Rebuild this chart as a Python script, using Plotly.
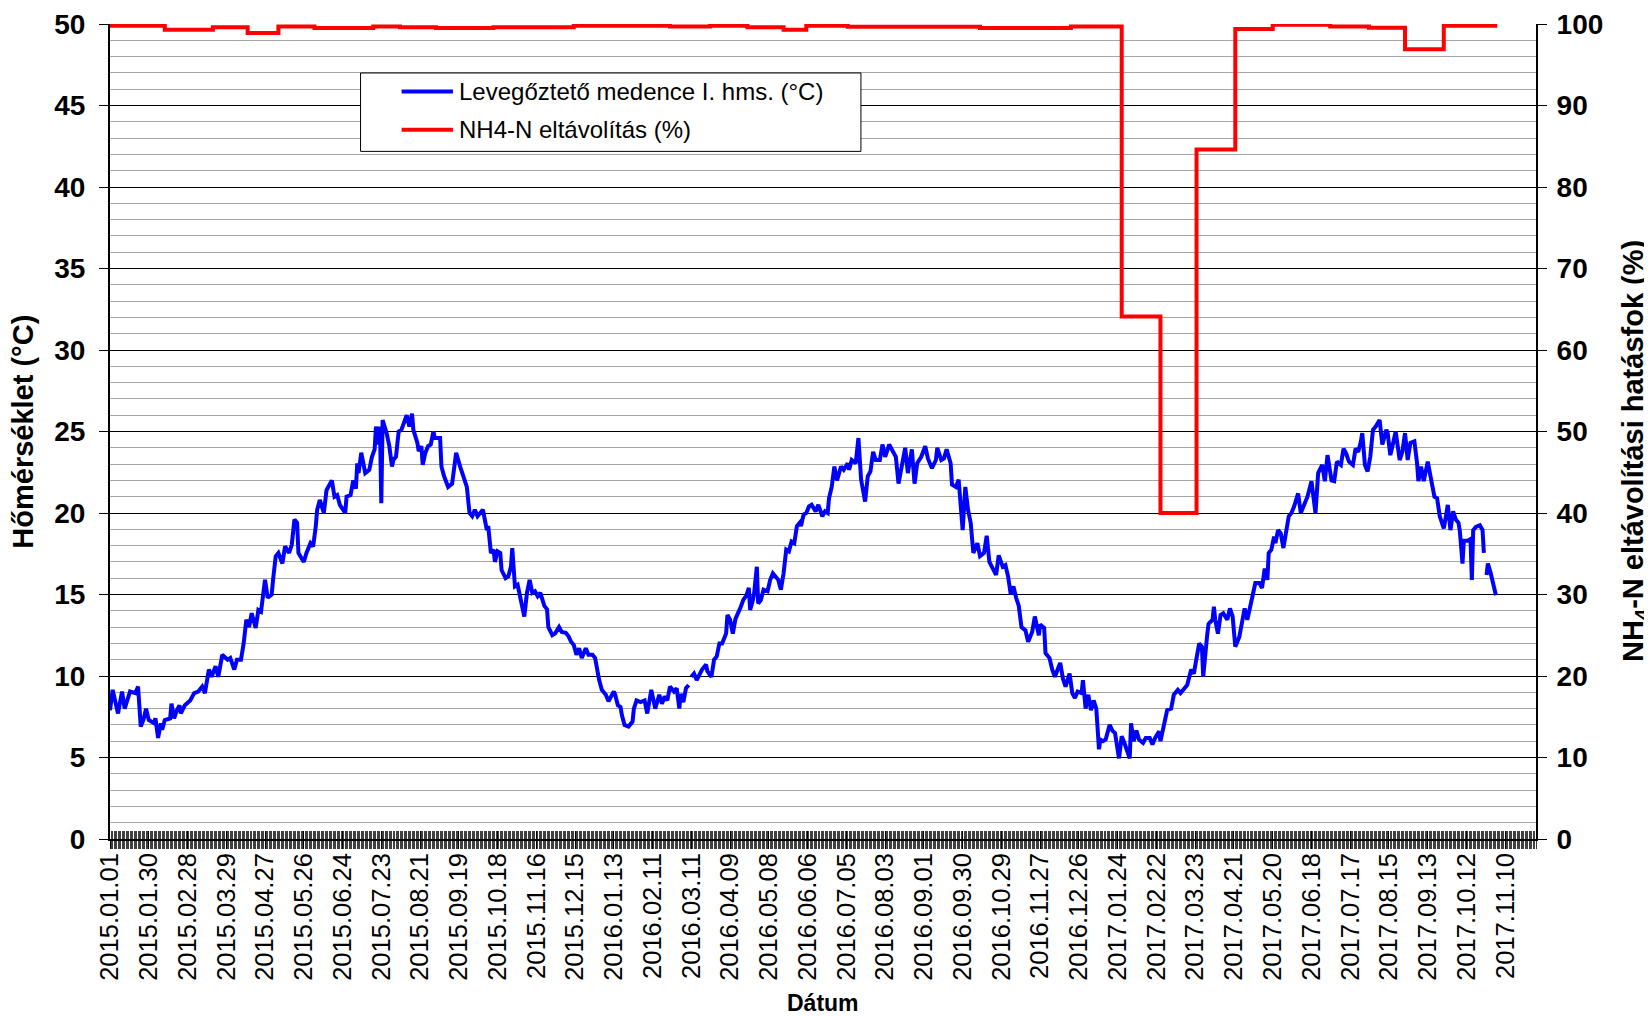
import plotly.graph_objects as go
import pandas as pd

# ---------------- data ----------------
START_DATE = "2015-01-01"

# days since 2015-01-01 and aeration-basin temperature (°C); None = gap in the record
day_offset = [
    0, 2, 6, 9, 11, 13, 15, 19, 21, 23, 25, 27, 29, 33, 34, 36, 38, 39, 41, 45,
    46, 48, 50, 52, 53, 56, 60, 63, 66, 69, 71, 74, 76, 79, 81, 84, 88, 90, 93, 95,
    98, 100, 102, 104, 106, 109, 111, 113, 116, 118, 121, 122, 124, 126, 129, 131, 134, 136, 138, 140,
    141, 145, 147, 150, 152, 154, 155, 157, 160, 162, 166, 168, 170, 172, 176, 177, 180, 182, 184, 185,
    186, 188, 191, 194, 196, 198, 199, 201, 202, 203, 204, 207, 209, 211, 212, 214, 216, 218, 220, 222,
    224, 226, 227, 230, 231, 233, 234, 236, 238, 240, 242, 243, 247, 248, 250, 253, 256, 259, 262, 265,
    267, 269, 271, 273, 275, 279,
    282, 283, 285, 287, 288, 290, 292, 293, 296, 298, 300, 301, 302, 303, 305, 307, 308, 310, 312, 314,
    316, 318, 320, 322, 325, 327, 328, 331, 333, 336, 338, 341, 343, 345, 347, 349, 351, 353, 356, 358,
    361, 363, 366, 368, 371, 373, 375, 377, 378, 380, 382, 383, 385, 388, 391, 392, 394, 397, 400, 402,
    405, 407, 408, 411, 413, 415, 417, 419, 422, 424, 426, 427, 429, 431, 433, 434, 435, 437, 439, 441,
    443, 446, 447, 449, 450, 452, 454, 456, 458, 461, 462, 464, 466, 468, 470, 472, 474, 476, 478, 479,
    481, 482, 484, 485, 487, 489, 492, 494, 496, 499, 500, 502, 504, 506, 508, 510, 512, 514, 516, 517,
    519, 521, 523, 525, 528, 530, 533, 535, 537, 538, 540, 542, 544, 547, 549, 552,
    553, 555, 558, 560, 562, 565, 567, 569, 571, 573, 576, 578, 580, 583, 585, 588, 590, 593, 595, 597,
    600, 602, 604, 607, 610, 612, 615, 618, 619, 622, 624, 626, 629, 630, 633, 635, 638, 640, 642, 644,
    646, 649, 651, 654, 656, 658, 660, 663, 665, 668, 670, 672, 674, 676, 678, 680, 682, 685, 687, 690,
    692, 695, 696, 699, 700, 703, 705, 707, 710, 711, 713, 715, 718, 720, 722, 724, 727, 728, 730, 732,
    734, 736, 738, 740, 741, 743, 745, 748, 750, 752, 755, 757, 759, 761, 763, 764, 766, 768, 770, 773,
    775, 778, 780, 782, 785, 786, 789, 791, 794, 796, 799, 801, 804, 806, 809, 811, 813, 815, 817, 818,
    821, 822, 825, 826,
    827, 829, 831, 833, 836, 838, 840, 842, 845, 847, 849, 851, 853, 855, 857, 860, 862, 864, 866, 867,
    869, 871, 872, 874, 876, 878, 880, 882, 884, 886, 889, 891, 894, 896, 899, 902, 904, 907, 909, 911,
    914, 916, 918, 921, 923, 925, 927, 930, 932, 934, 936, 937, 939, 941, 943, 945, 947, 950, 952, 955,
    956, 958, 960, 962, 965, 967, 969, 971, 973, 976, 978, 979, 981, 983, 986, 988, 989, 991, 993, 995,
    998, 1000, 1001, 1003, 1005, 1007, 1009, 1010, 1012, 1013, 1016, 1018, 1019, 1020, 1022, 1025, 1027, 1028, 1029, 1030,
    1031, 1033, 1035, 1037,
]
temp_c = [
    7.9, 9.15, 7.7, 9.05, 8.0, 8.5, 9.05, 8.95, 9.35, 6.9, 7.3, 8.0, 7.3, 7.1, 7.4, 6.2, 7.1, 6.7, 7.3, 7.4,
    8.3, 7.4, 7.9, 8.2, 7.7, 8.2, 8.5, 8.95, 9.05, 9.35, 8.95, 10.4, 9.95, 10.6, 9.95, 11.3, 11.0, 11.1, 10.4, 11.0,
    11.0, 12.0, 13.45, 13.0, 13.85, 12.95, 14.05, 13.95, 15.9, 14.8, 15.0, 15.9, 17.35, 17.55, 16.9, 17.95, 17.55, 18.05, 19.6, 19.4,
    17.55, 17.0, 17.55, 18.15, 17.95, 19.2, 20.2, 20.8, 20.0, 21.4, 22.0, 21.0, 21.1, 20.5, 20.0, 21.0, 21.1, 22.0, 21.5, 23.05,
    22.45, 23.7, 22.45, 22.65, 23.45, 23.9, 25.3, 24.2, 25.3, 20.6, 25.7, 24.9, 24.1, 22.85, 23.25, 23.45, 25.0, 25.1, 25.5, 26.0,
    25.3, 26.1, 25.1, 24.3, 23.8, 24.1, 22.95, 23.7, 24.1, 24.2, 25.0, 24.6, 24.6, 22.85, 22.25, 21.6, 21.8, 23.7, 22.85, 22.0,
    21.6, 20.0, 19.8, 20.2, 19.8, 20.2,
    18.95, 19.2, 17.55, 17.75, 17.0, 17.65, 17.55, 16.5, 16.0, 16.1, 16.7, 17.85, 16.4, 15.5, 15.6, 14.9, 14.6, 13.65, 15.1, 15.9,
    15.1, 15.2, 14.9, 15.1, 14.3, 14.1, 13.0, 12.5, 12.6, 13.0, 12.7, 12.65, 12.45, 12.1, 11.9, 11.3, 11.7, 11.1, 11.7, 11.3,
    11.3, 11.1, 9.75, 9.15, 8.85, 8.45, 8.75, 9.05, 8.85, 8.2, 8.1, 7.6, 7.0, 6.9, 7.2, 8.0, 8.5, 8.4, 8.5, 7.7,
    9.15, 8.5, 8.0, 8.85, 8.3, 8.75, 8.5, 9.35, 9.05, 9.25, 8.0, 8.9, 8.4, 9.25, 9.45, None, 9.95, 10.15, 9.75, 10.15,
    10.4, 10.7, 10.3, 10.05, 9.95, 11.0, 11.2, 12.0, 12.0, 12.6, 13.75, 13.45, 12.6, 13.5, 13.85, 14.25, 14.7, 14.9, 15.4, 14.05,
    14.65, 15.1, 16.7, 14.45, 14.65, 15.3, 15.2, 15.9, 16.3, 16.0, 15.9, 15.3, 16.3, 17.75, 17.65, 18.25, 18.15, 19.2, 19.4, 19.2,
    19.9, 20.0, 20.4, 20.5, 20.1, 20.5, 19.8, 20.1, 20.0, 20.9, 21.6, 22.85, 22.0, 22.85, 22.65, 23.05,
    22.65, 23.25, 23.05, 24.6, 22.05, 20.7, 22.25, 22.55, 23.75, 23.25, 23.25, 24.2, 23.45, 24.2, 23.9, 23.45, 21.8, 23.05, 24.0, 22.45,
    23.9, 21.8, 23.05, 23.45, 24.1, 23.35, 22.75, 23.25, 24.0, 23.25, 23.35, 23.9, 23.05, 21.75, 21.6, 22.05, 18.95, 21.6, 20.2, 19.4,
    17.55, 18.15, 17.35, 17.55, 18.6, 17.0, 16.7, 16.2, 17.4, 16.7, 16.8, 16.1, 15.0, 15.5, 14.8, 14.3, 13.0, 12.8, 12.1, 12.7,
    13.65, 12.5, 13.15, 12.95, 11.4, 11.1, 10.4, 9.95, 10.6, 10.8, 9.85, 9.35, 10.15, 8.95, 8.65, 9.05, 8.95, 9.75, 8.0, 8.85,
    7.9, 8.5, 8.0, 5.5, 6.1, 6.0, 6.1, 7.0, 6.65, 6.5, 4.95, 6.3, 5.9, 5.5, 4.95, 7.1, 6.0, 6.65, 6.1, 5.9,
    6.2, 6.2, 5.8, 6.2, 6.6, 6.0, 7.2, 7.9, 8.0, 8.85, 9.15, 8.95, 9.25, 9.45, 10.4, 10.15, 11.1, 12.0, 11.8, 9.95,
    12.55, 13.2, 13.45, 14.25,
    13.45, 12.6, 13.75, 13.85, 13.45, 14.15, 13.65, 11.8, 12.4, 13.45, 14.15, 13.45, 14.25, 15.1, 15.7, 15.7, 15.4, 16.6, 15.9, 17.55,
    17.75, 18.55, 18.15, 18.95, 18.75, 17.85, 18.75, 19.8, 20.0, 20.4, 21.2, 20.0, 20.6, 21.0, 21.95, 20.0, 22.45, 22.95, 21.95, 23.55,
    22.0, 21.95, 23.15, 22.95, 23.95, 23.65, 23.15, 22.95, 23.95, 23.75, 24.4, 24.9, 22.95, 22.55, 23.45, 25.1, 25.3, 25.7, 24.2, 25.1,
    24.9, 23.55, 24.25, 25.0, 23.25, 23.75, 24.9, 23.25, 24.3, 24.4, 23.05, 21.95, 22.85, 21.95, 23.15, 22.05, 21.85, 21.0, 20.9, 19.8,
    19.05, 20.0, 20.5, 18.95, 20.1, 19.6, 19.4, 18.9, 16.9, 18.3, 18.3, 18.4, 15.9, 18.95, 19.15, 19.25, 18.95, 17.55, None, 16.2,
    16.9, 16.35, 15.65, 14.95,
]

# NH4-N removal efficiency (%): step values, each valid from its start date
removal_start = [
    "2015-01-01", "2015-02-11", "2015-03-19", "2015-04-14", "2015-05-07", "2015-06-03",
    "2015-07-17", "2015-08-06", "2015-09-02", "2015-10-15", "2015-12-14", "2016-02-24",
    "2016-03-25", "2016-04-22", "2016-05-19", "2016-06-05", "2016-07-06", "2016-10-13",
    "2016-12-20", "2017-01-27", "2017-02-25", "2017-03-24", "2017-04-22", "2017-05-20",
    "2017-07-02", "2017-07-31", "2017-08-27", "2017-09-25", "2017-11-04",
]
removal_pct = [
    99.8, 99.3, 99.6, 98.9, 99.7, 99.5,
    99.7, 99.6, 99.5, 99.6, 99.8, 99.7,
    99.8, 99.6, 99.3, 99.8, 99.65, 99.5,
    99.7, 64.1, 40.0, 84.6, 99.4, 99.9,
    99.7, 99.55, 96.9, 99.8, 99.8,
]

x_tick_labels = [
    "2015.01.01", "2015.01.30", "2015.02.28", "2015.03.29", "2015.04.27", "2015.05.26",
    "2015.06.24", "2015.07.23", "2015.08.21", "2015.09.19", "2015.10.18", "2015.11.16",
    "2015.12.15", "2016.01.13", "2016.02.11", "2016.03.11", "2016.04.09", "2016.05.08",
    "2016.06.06", "2016.07.05", "2016.08.03", "2016.09.01", "2016.09.30", "2016.10.29",
    "2016.11.27", "2016.12.26", "2017.01.24", "2017.02.22", "2017.03.23", "2017.04.21",
    "2017.05.20", "2017.06.18", "2017.07.17", "2017.08.15", "2017.09.13", "2017.10.12",
    "2017.11.10",
]
X_RANGE = ["2015-01-01", "2017-12-03"]

SERIES_NAMES = ["Levegőztető medence I. hms. (°C)", "NH4-N eltávolítás (%)"]
SERIES_COLORS = ["#0000FF", "#FF0000"]

# ---------------- figure ----------------
FONT = "Liberation Sans, Arial, sans-serif"
start = pd.Timestamp(START_DATE)
temp_dates = [start + pd.Timedelta(days=d) for d in day_offset]
removal_dates = pd.to_datetime(removal_start)
tick_dates = pd.to_datetime(x_tick_labels, format="%Y.%m.%d")
DAY_MS = 86400000

fig = go.Figure()
fig.add_trace(go.Scatter(
    x=temp_dates, y=temp_c, mode="lines", connectgaps=False,
    name=SERIES_NAMES[0], showlegend=False,
    line=dict(color=SERIES_COLORS[0], width=4),
    xaxis="x", yaxis="y",
))
fig.add_trace(go.Scatter(
    x=removal_dates, y=removal_pct, mode="lines",
    name=SERIES_NAMES[1], showlegend=False,
    line=dict(color=SERIES_COLORS[1], width=4, shape="hv"),
    xaxis="x2", yaxis="y2",
))

# legend box drawn in paper coordinates (keeps the reference's padding)
LEG_X0, LEG_X1, LEG_Y0, LEG_Y1 = 0.1757, 0.5266, 0.8437, 0.9399
LEG_LINE_X0, LEG_LINE_X1, LEG_TEXT_X = 0.2045, 0.2405, 0.2431
LEG_ROW_Y = [0.9173, 0.8703]
shapes = [dict(type="rect", xref="paper", yref="paper",
               x0=LEG_X0, x1=LEG_X1, y0=LEG_Y0, y1=LEG_Y1,
               line=dict(color="black", width=1), fillcolor="white", layer="above")]
annotations = []
for name, color, ry in zip(SERIES_NAMES, SERIES_COLORS, LEG_ROW_Y):
    shapes.append(dict(type="line", xref="paper", yref="paper",
                       x0=LEG_LINE_X0, x1=LEG_LINE_X1, y0=ry, y1=ry,
                       line=dict(color=color, width=4), layer="above"))
    annotations.append(dict(xref="paper", yref="paper", x=LEG_TEXT_X, y=ry,
                            xanchor="left", yanchor="middle", showarrow=False,
                            text=name, font=dict(family=FONT, size=24, color="black")))

# axis titles
annotations += [
    dict(xref="paper", yref="paper", x=-0.061, y=0.4998, textangle=-90,
         xanchor="center", yanchor="middle", showarrow=False,
         text="<b>Hőmérséklet (°C)</b>", font=dict(family=FONT, size=29, color="black")),
    dict(xref="paper", yref="paper", x=1.0694, y=0.476, textangle=-90,
         xanchor="center", yanchor="middle", showarrow=False,
         text="<b>NH<sub>4</sub>-N eltávolítási hatásfok (%)</b>",
         font=dict(family=FONT, size=29, color="black")),
    dict(xref="paper", yref="paper", x=0.5, y=-0.2009,
         xanchor="center", yanchor="middle", showarrow=False,
         text="<b>Dátum</b>", font=dict(family=FONT, size=23, color="black")),
]

# the page puts the figure 8 px in from the top-left corner
fig.update_layout(
    width=1644, height=1008,
    margin=dict(l=102, r=116, t=16, b=177, autoexpand=False),
    paper_bgcolor="white", plot_bgcolor="white",
    font=dict(family=FONT, color="black"),
    showlegend=False,
    shapes=shapes, annotations=annotations,
    xaxis=dict(
        type="date", range=X_RANGE, automargin=False,
        tickmode="array", tickvals=tick_dates, ticktext=x_tick_labels,
        tickangle=-90, tickfont=dict(family=FONT, size=25.5, color="black"),
        ticklabelstandoff=-6,
        ticks="outside", ticklen=8, tickwidth=1, tickcolor="black",
        minor=dict(ticks="outside", ticklen=8, tickwidth=1,
                   tickcolor="rgba(0,0,0,0.75)", tickmode="linear",
                   tick0=START_DATE, dtick=DAY_MS, showgrid=False),
        showline=True, linecolor="black", linewidth=2,
        showgrid=False, zeroline=False,
    ),
    xaxis2=dict(
        type="date", range=X_RANGE, overlaying="x", anchor="y", side="bottom",
        automargin=False,
        tickmode="array", tickvals=tick_dates, showticklabels=False,
        ticks="inside", ticklen=8, tickwidth=1, tickcolor="black",
        minor=dict(ticks="inside", ticklen=8, tickwidth=1,
                   tickcolor="rgba(0,0,0,0.75)", tickmode="linear",
                   tick0=START_DATE, dtick=DAY_MS, showgrid=False),
        showline=False, showgrid=False, zeroline=False,
    ),
    yaxis=dict(
        range=[0, 50], tickmode="linear", tick0=0, dtick=5, automargin=False,
        tickfont=dict(family=FONT, size=28, color="black", weight="bold"),
        ticks="outside", ticklen=9, tickwidth=1, tickcolor="black",
        ticklabelstandoff=8,
        showline=True, linecolor="black", linewidth=2,
        showgrid=True, gridcolor="black", gridwidth=1,
        minor=dict(tickmode="linear", tick0=0, dtick=1, showgrid=True,
                   gridcolor="#a6a6a6", gridwidth=1, ticks=""),
        zeroline=False,
    ),
    yaxis2=dict(
        range=[0, 100], tickmode="linear", tick0=0, dtick=10, automargin=False,
        overlaying="y", side="right", anchor="x",
        tickfont=dict(family=FONT, size=28, color="black", weight="bold"),
        ticks="outside", ticklen=9, tickwidth=1, tickcolor="black",
        ticklabelstandoff=4,
        showline=True, linecolor="black", linewidth=2,
        showgrid=False, zeroline=False,
    ),
)

fig.write_html("out.html")
